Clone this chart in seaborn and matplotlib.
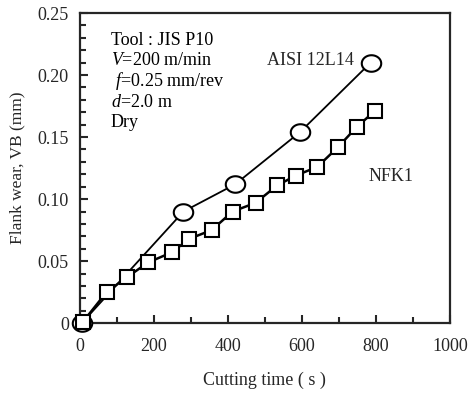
import matplotlib
matplotlib.use("Agg")
import matplotlib.pyplot as plt
from matplotlib.ticker import MultipleLocator, FixedFormatter, FixedLocator
from matplotlib.path import Path
import numpy as np
import seaborn as sns
import pandas as pd

# Data
aisi_time = [5, 280, 420, 595, 786]
aisi_wear = [0.0, 0.090, 0.112, 0.154, 0.210]

nfk_time = [8, 72, 127, 185, 248, 296, 356, 413, 475, 533, 584, 642, 698, 748, 797]
nfk_wear = [0.001, 0.025, 0.037, 0.049, 0.057, 0.068, 0.075, 0.090, 0.097, 0.111, 0.119, 0.126, 0.142, 0.158, 0.171]

x_ticks = [0, 200, 400, 600, 800, 1000]
x_ticklabels = ["0", "200", "400", "600", "800", "1000"]
y_ticks = [0, 0.05, 0.10, 0.15, 0.20, 0.25]
y_ticklabels = ["0", "0.05", "0.10", "0.15", "0.20", "0.25"]

sns.set_style("ticks")
plt.rcParams['font.family'] = ['Liberation Serif', 'DejaVu Serif']
plt.rcParams['mathtext.fontset'] = 'custom'
plt.rcParams['mathtext.rm'] = 'Liberation Serif'
plt.rcParams['mathtext.it'] = 'Liberation Serif:italic'

fig = plt.figure(figsize=(4.7, 3.96), dpi=100)
ax = fig.add_axes([0.170, 0.184, 0.787, 0.783])

th = np.linspace(0, 2 * np.pi, 60)
ellipse = Path(np.column_stack([np.cos(th), 0.85 * np.sin(th)]), closed=True)

df_a = pd.DataFrame({"t": aisi_time, "w": aisi_wear})
df_n = pd.DataFrame({"t": nfk_time, "w": nfk_wear})

sns.lineplot(data=df_a, x="t", y="w", ax=ax, color="black", linewidth=1.3,
             marker=ellipse, markersize=14, markerfacecolor="white",
             markeredgecolor="black", markeredgewidth=1.5, zorder=3, clip_on=False)
sns.lineplot(data=df_n, x="t", y="w", ax=ax, color="black", linewidth=1.8,
             marker="s", markersize=10.5, markerfacecolor="white",
             markeredgecolor="black", markeredgewidth=1.5, zorder=4, clip_on=False)

ax.set_xlim(0, 1000)
ax.set_ylim(0, 0.25)
ax.xaxis.set_major_locator(FixedLocator(x_ticks))
ax.xaxis.set_major_formatter(FixedFormatter(x_ticklabels))
ax.yaxis.set_major_locator(FixedLocator(y_ticks))
ax.yaxis.set_major_formatter(FixedFormatter(y_ticklabels))
ax.xaxis.set_minor_locator(MultipleLocator(100))
ax.yaxis.set_minor_locator(MultipleLocator(0.01))

ax.tick_params(which="both", direction="in", top=False, right=False, labelsize=13, width=1.5)
ax.tick_params(which="major", length=6)
ax.tick_params(which="minor", length=4)
ax.tick_params(axis="y", which="major", pad=8)
ax.tick_params(axis="x", which="major", pad=11)
for s in ax.spines.values():
    s.set_linewidth(1.6)
    s.set_visible(True)

ax.set_xlabel("Cutting time ( s )", fontsize=13, labelpad=12)
ax.set_ylabel("Flank wear, VB (mm)", fontsize=12.5, labelpad=9)

fs = 13
lines = ["Tool : JIS P10", r"$\it{V}$=200 m/min", r" $\it{f}$=0.25 mm/rev", r"$\it{d}$=2.0 m", "Dry"]
y0 = 40
for i, s in enumerate(lines):
    ypix = y0 + i * 20.7
    ax.text((111 - 80) / 370 * 1000, (323 - ypix) / 1240, s, fontsize=fs,
            ha="left", va="center", color="black")

ax.text((311 - 80) / 0.37, (323 - 60) / 1240, "AISI 12L14", fontsize=fs, ha="center", va="center")
ax.text((391 - 80) / 0.37, (323 - 176) / 1240, "NFK1", fontsize=fs, ha="center", va="center")

fig.savefig("out.png", dpi=100)
